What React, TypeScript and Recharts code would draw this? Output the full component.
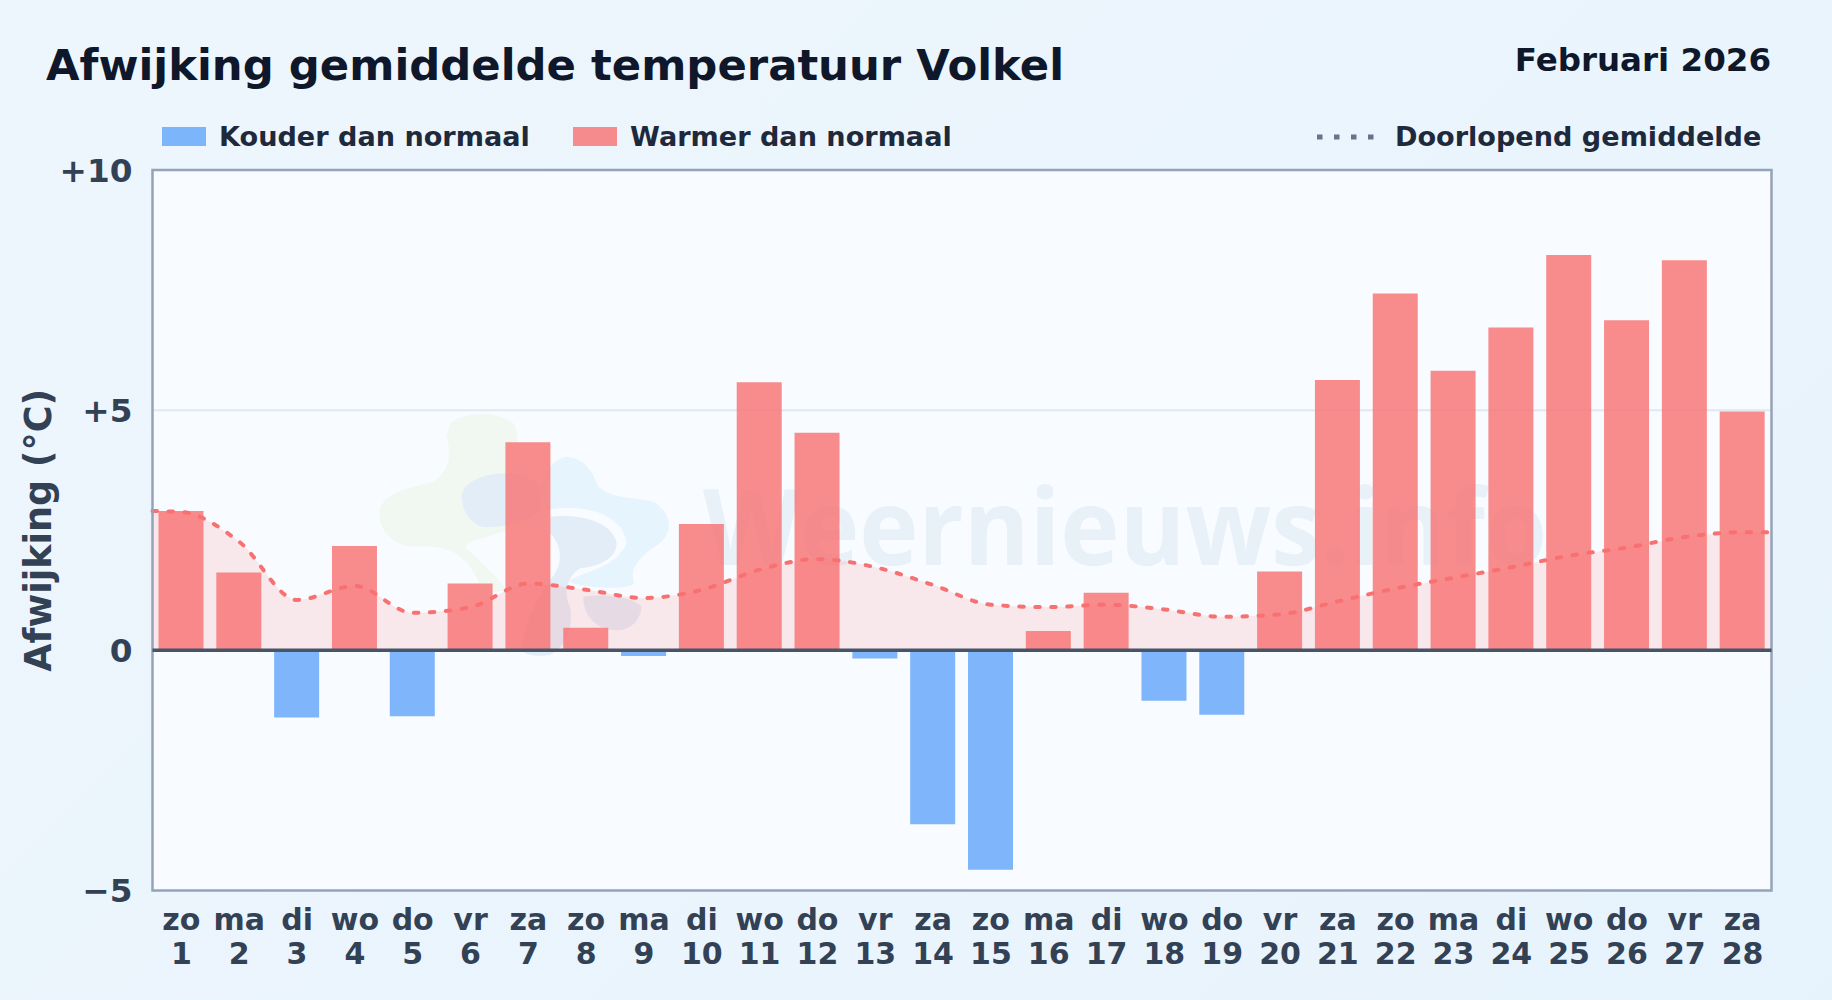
import React from "react";
import {
  ComposedChart,
  Bar,
  Area,
  XAxis,
  YAxis,
  CartesianGrid,
  Legend,
  ReferenceArea,
  ReferenceLine,
} from "recharts";

const FONT = "'DejaVu Sans', sans-serif";

const DAYS = [1, 2, 3, 4, 5, 6, 7, 8, 9, 10, 11, 12, 13, 14, 15, 16, 17, 18, 19, 20, 21, 22, 23, 24, 25, 26, 27, 28];
const WEEKDAYS = ["zo", "ma", "di", "wo", "do", "vr", "za", "zo", "ma", "di", "wo", "do", "vr", "za", "zo", "ma", "di", "wo", "do", "vr", "za", "zo", "ma", "di", "wo", "do", "vr", "za"];
const DEVIATION = [2.9, 1.62, -1.4, 2.17, -1.37, 1.39, 4.33, 0.47, -0.12, 2.63, 5.58, 4.53, -0.17, -3.62, -4.57, 0.4, 1.2, -1.05, -1.34, 1.64, 5.63, 7.43, 5.82, 6.72, 8.23, 6.87, 8.12, 4.97];
const RUNNING_MEAN = [2.88, 2.26, 1.05, 1.34, 0.78, 0.9, 1.39, 1.26, 1.09, 1.26, 1.68, 1.9, 1.73, 1.36, 0.95, 0.9, 0.95, 0.85, 0.7, 0.75, 1.02, 1.29, 1.51, 1.73, 1.97, 2.14, 2.36, 2.46];
// the running mean carries on to both edges of the plot
const MEAN_EDGES = [2.9, 2.46];
const Y_TICKS = [-5, 0, 5, 10];

const barRows = DAYS.map((day, i) => ({
  day,
  warm: DEVIATION[i] > 0 ? DEVIATION[i] : undefined,
  cold: DEVIATION[i] < 0 ? DEVIATION[i] : undefined,
}));

const meanRows = [
  { day: 0.5, mean: MEAN_EDGES[0] },
  ...DAYS.map((day, i) => ({ day, mean: RUNNING_MEAN[i] })),
  { day: 28.5, mean: MEAN_EDGES[1] },
];

const formatY = (v: number) => (v > 0 ? `+${v}` : v < 0 ? `\u2212${-v}` : "0");

const DayTick = ({ x, y, payload }: any) => (
  <text x={x} y={y} textAnchor="middle" fontFamily={FONT} fontWeight={700} fontSize={30} fill="#334155">
    <tspan x={x} dy={0}>{WEEKDAYS[payload.value - 1]}</tspan>
    <tspan x={x} dy={34}>{payload.value}</tspan>
  </text>
);

const LegendRow = ({ payload }: any) => {
  const names: string[] = (payload ?? []).map((p: any) => p.value);
  const label = (x: number) => ({
    position: "absolute" as const,
    left: x,
    top: 120,
    lineHeight: "34px",
    fontFamily: FONT,
    fontWeight: 700,
    fontSize: 27.1,
    color: "#1e293b",
    whiteSpace: "nowrap" as const,
  });
  const swatch = (x: number, color: string) => (
    <div style={{ position: "absolute", left: x, top: 127, width: 44, height: 19, background: color, opacity: 0.8 }} />
  );
  return (
    <div style={{ position: "absolute", left: 0, top: 0, width: 0, height: 0 }}>
      {swatch(162, "#60a5fa")}
      <div style={label(219)}>{names.find((n) => n.startsWith("Kouder"))}</div>
      {swatch(573, "#f87171")}
      <div style={label(630)}>{names.find((n) => n.startsWith("Warmer"))}</div>
      <svg style={{ position: "absolute", left: 1315, top: 130 }} width={62} height={14}>
        <line x1={2} x2={60} y1={7} y2={7} stroke="#64748b" strokeWidth={5} strokeDasharray="5.5 11.5" />
      </svg>
      <div style={label(1395)}>{names.find((n) => n.startsWith("Doorlopend"))}</div>
    </div>
  );
};

const Watermark = () => (
  <svg style={{ position: "absolute", left: 0, top: 0 }} width={1832} height={1000}>
    <g transform="translate(350 380) scale(0.3333)">
      <path d="M300 130 C340 95 440 90 490 130 C515 170 500 230 470 265 C560 300 620 380 560 400 C470 470 370 470 345 500 C390 540 440 590 470 630 L400 640 C370 560 330 490 200 500 C120 500 80 440 90 385 C110 330 200 320 250 305 C290 280 310 230 290 170 Z" fill="#eef7ec" opacity={0.7} />
      <path d="M650 230 C700 235 725 265 745 320 C790 360 860 350 910 365 C960 395 975 450 930 490 C880 520 840 560 850 600 C880 640 640 620 660 600 C720 570 800 560 830 490 C820 400 700 370 590 390 C560 320 590 240 650 230 Z" fill="#e6f4fd" />
      <path d="M335 345 C345 300 410 280 470 280 C560 280 590 330 565 395 C530 430 450 445 395 440 C355 425 335 390 335 345 Z" fill="#e3edf7" />
      <path d="M600 410 C700 400 790 430 800 490 C800 540 740 560 690 565 C650 590 640 640 660 680 C670 740 650 800 600 825 C560 830 530 825 520 815 C510 760 560 650 600 600 C640 560 640 500 600 460 Z" fill="#e3edf7" />
      <path d="M700 650 C760 640 850 650 875 680 C870 730 830 755 790 750 C740 745 700 710 700 650 Z" fill="#e3edf7" />
    </g>
    <text x={703} y={565} fontFamily="'Open Sans', sans-serif" fontWeight={700} fontSize={106} textLength={844} lengthAdjust="spacingAndGlyphs" fill="#dbe8f4" opacity={0.55}>Weernieuws.info</text>
  </svg>
);

export default function App() {
  return (
    <div style={{ position: "relative", width: 1832, height: 1000, overflow: "hidden", background: "linear-gradient(135deg, #eef6fd, #e7f3fc)" }}>
      <style>{"body { margin: 0; }"}</style>
      <div style={{ position: "absolute", left: 152, top: 170, width: 1620, height: 721, background: "#f8fbff" }} />
      <Watermark />
      <div style={{ position: "absolute", left: 46, top: 36, fontFamily: FONT, fontWeight: 700, fontSize: 43.35, lineHeight: "58px", color: "#0f172a", whiteSpace: "nowrap" }}>
        Afwijking gemiddelde temperatuur Volkel
      </div>
      <div style={{ position: "absolute", right: 61, top: 40, fontFamily: FONT, fontWeight: 700, fontSize: 32.5, lineHeight: "40px", color: "#0f172a", whiteSpace: "nowrap" }}>
        Februari 2026
      </div>
      <div style={{ position: "absolute", left: 0, top: 0 }}>
        <ComposedChart
          width={1832}
          height={1000}
          data={barRows}
          margin={{ top: 170, right: 60.5, bottom: 0, left: 0 }}
          barGap={0}
        >
          <CartesianGrid horizontal vertical={false} stroke="#e2e8f0" strokeWidth={2} horizontalValues={[5]} />
          <XAxis
            dataKey="day"
            type="number"
            domain={[0.5, 28.5]}
            ticks={DAYS}
            interval={0}
            height={109.5}
            tick={<DayTick />}
            tickLine={false}
            axisLine={false}
            tickSize={0}
            tickMargin={39}
          />
          <XAxis xAxisId="mean" dataKey="day" type="number" domain={[0.5, 28.5]} hide />
          <YAxis
            width={152.5}
            domain={[-5, 10]}
            ticks={Y_TICKS}
            interval={0}
            tickFormatter={formatY}
            tick={{ fontFamily: FONT, fontWeight: 700, fontSize: 32.7, fill: "#334155" }}
            tickLine={false}
            axisLine={false}
            tickSize={0}
            tickMargin={20}
            label={{
              value: "Afwijking (\u00b0C)",
              angle: -90,
              position: "center",
              dx: -38,
              style: { fontFamily: FONT, fontWeight: 700, fontSize: 36.5, fill: "#334155", textAnchor: "middle" },
            }}
          />
          <Legend
            content={<LegendRow />}
            wrapperStyle={{ position: "absolute", left: 0, top: 0, width: 0, height: 0 }}
          />
          <Area
            xAxisId="mean"
            data={meanRows}
            dataKey="mean"
            name="Doorlopend gemiddelde"
            type="monotone"
            baseValue={0}
            fill="#f87171"
            fillOpacity={0.14}
            stroke="#f87171"
            strokeWidth={4}
            strokeLinecap="round"
            strokeDasharray="4.5 11.5"
            dot={false}
            activeDot={false}
            isAnimationActive={false}
          />
          <Bar dataKey="cold" name="Kouder dan normaal" stackId="dev" barSize={45} fill="#60a5fa" fillOpacity={0.8} isAnimationActive={false} />
          <Bar dataKey="warm" name="Warmer dan normaal" stackId="dev" barSize={45} fill="#f87171" fillOpacity={0.8} isAnimationActive={false} />
          <ReferenceLine y={0} stroke="#475569" strokeWidth={3.5} />
          <ReferenceArea x1={0.5} x2={28.5} y1={-5} y2={10} fill="none" stroke="#94a3b8" strokeWidth={2.5} />
        </ComposedChart>
      </div>
    </div>
  );
}
